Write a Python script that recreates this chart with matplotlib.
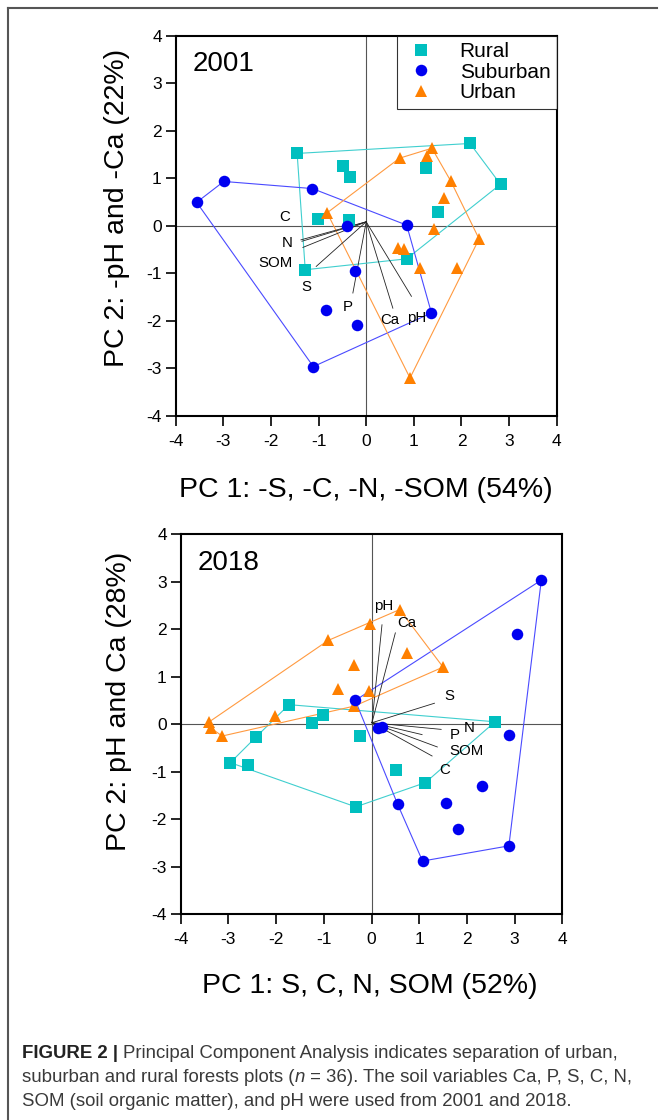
import matplotlib
matplotlib.use('Agg')
import matplotlib.pyplot as plt
from matplotlib.lines import Line2D

plt.rcParams['font.family'] = ['Liberation Sans', 'DejaVu Sans']

W, H = 659, 1120

# ---------------- data: 2001 ----------------
rural01_x = [-1.45, -0.49, -0.35, 2.18, 2.82, 1.26, 1.50, -1.02, -0.37, -1.28, 0.85]
rural01_y = [1.52, 1.26, 1.02, 1.73, 0.87, 1.21, 0.29, 0.14, 0.12, -0.93, -0.70]
sub01_x = [-3.56, -2.99, -1.13, 0.85, -0.41, -0.23, -0.85, -0.20, 1.37, -1.11]
sub01_y = [0.49, 0.93, 0.78, 0.01, 0.00, -0.95, -1.77, -2.10, -1.84, -2.97]
urb01_x = [-0.82, 0.70, 1.38, 1.27, 1.78, 1.64, 1.42, 2.37, 0.66, 0.80, 1.14, 1.90, 0.92]
urb01_y = [0.27, 1.42, 1.63, 1.47, 0.93, 0.58, -0.07, -0.28, -0.48, -0.49, -0.90, -0.90, -3.21]

vars01 = ['C', 'N', 'SOM', 'S', 'P', 'Ca', 'pH']
load01_x0 = [0.0] * 7
load01_y0 = [0.08] * 7
load01_x = [-1.37, -1.35, -1.33, -1.05, -0.28, 0.56, 0.95]
load01_y = [-0.30, -0.33, -0.46, -0.86, -1.42, -1.74, -1.49]
lab01_x = [-1.72, -1.65, -1.91, -1.26, -0.39, 0.49, 1.05]
lab01_y = [0.19, -0.36, -0.79, -1.30, -1.72, -1.99, -1.95]

# ---------------- data: 2018 ----------------
rural18_x = [-1.73, -1.01, -1.24, 2.59, -2.42, -0.25, -2.96, -2.59, 0.51, 1.13, -0.33]
rural18_y = [0.41, 0.20, 0.02, 0.05, -0.27, -0.25, -0.81, -0.85, -0.97, -1.23, -1.74]
sub18_x = [3.56, 3.05, -0.34, 0.13, 0.22, 2.88, 2.31, 0.55, 1.56, 1.81, 2.88, 1.07]
sub18_y = [3.03, 1.90, 0.50, -0.08, -0.06, -0.22, -1.30, -1.69, -1.66, -2.20, -2.56, -2.88]
urb18_x = [0.59, -0.04, -0.91, 0.75, -0.36, 1.50, -0.71, -0.06, -2.03, -3.40, -3.37, -3.13, -0.36]
urb18_y = [2.41, 2.11, 1.76, 1.50, 1.24, 1.20, 0.74, 0.69, 0.17, 0.05, -0.08, -0.25, 0.38]

vars18 = ['pH', 'Ca', 'S', 'N', 'P', 'SOM', 'C']
load18_x0 = [0.01] * 7
load18_y0 = [0.03] * 7
load18_x = [0.22, 0.50, 1.32, 1.46, 1.06, 1.38, 1.27]
load18_y = [2.09, 1.92, 0.44, -0.11, -0.22, -0.48, -0.67]
lab18_x = [0.25, 0.74, 1.64, 2.04, 1.75, 1.99, 1.53]
lab18_y = [2.48, 2.12, 0.59, -0.09, -0.23, -0.57, -0.97]

ticks = [-4, -3, -2, -1, 0, 1, 2, 3, 4]
tick_labels = ['-4', '-3', '-2', '-1', '0', '1', '2', '3', '4']

groups = ['Rural', 'Suburban', 'Urban']
marker_col = {'Rural': '#00BFBF', 'Suburban': '#0000F0', 'Urban': '#FF8000'}
hull_col = {'Rural': '#40CFCF', 'Suburban': '#4A4AFF', 'Urban': '#FF9A40'}
markers = {'Rural': 's', 'Suburban': 'o', 'Urban': '^'}
msize = {'Rural': 8.6, 'Suburban': 8.3, 'Urban': 9.0}


def convex_hull(xs, ys):
    pts = sorted(set(zip(xs, ys)))

    def cross(o, a, b):
        return (a[0] - o[0]) * (b[1] - o[1]) - (a[1] - o[1]) * (b[0] - o[0])
    lower, upper = [], []
    for p in pts:
        while len(lower) >= 2 and cross(lower[-2], lower[-1], p) <= 0:
            lower.pop()
        lower.append(p)
    for p in reversed(pts):
        while len(upper) >= 2 and cross(upper[-2], upper[-1], p) <= 0:
            upper.pop()
        upper.append(p)
    h = lower[:-1] + upper[:-1]
    h.append(h[0])
    return [p[0] for p in h], [p[1] for p in h]


fig = plt.figure(figsize=(W / 100, H / 100), dpi=100)


def axrect(l, t, r, b):
    return [l / W, 1 - b / H, (r - l) / W, (b - t) / H]


def panel(rect, data, loads, year, show_legend):
    ax = fig.add_axes(rect)
    ax.set_xlim(-4, 4)
    ax.set_ylim(-4, 4)
    ax.axhline(0, color='#555555', lw=0.8, zorder=1)
    ax.axvline(0, color='#555555', lw=0.8, zorder=1)
    # hulls
    for g in groups:
        xs, ys = data[g]
        hx, hy = convex_hull(xs, ys)
        ax.plot(hx, hy, color=hull_col[g], lw=0.8, zorder=2)
    # loadings
    names, x0, y0, x1, y1, lx, ly = loads
    for n, a, b, c, d, e, f in zip(names, x0, y0, x1, y1, lx, ly):
        ax.plot([a, c], [b, d], color='#222222', lw=0.6, zorder=3)
        ax.text(e, f, n, fontsize=10.8, ha='center', va='center', zorder=6)
    # points
    zo = {'Rural': 4, 'Urban': 5, 'Suburban': 6}
    for g in groups:
        xs, ys = data[g]
        ax.plot(xs, ys, linestyle='none', marker=markers[g], ms=msize[g],
                color=marker_col[g], mew=0, zorder=zo[g], label=g)
    ax.set_xticks(ticks)
    ax.set_xticklabels(tick_labels)
    ax.set_yticks(ticks)
    ax.set_yticklabels(tick_labels)
    ax.tick_params(direction='out', length=7, width=1.2, labelsize=12.5,
                   color='black', pad=3)
    ax.tick_params(axis='x', pad=6)
    for s in ax.spines.values():
        s.set_linewidth(1.5)
    ax.text(0.045, 0.925, year, transform=ax.transAxes, fontsize=20,
            ha='left', va='center')
    if show_legend:
        leg = ax.legend(loc='upper right', borderaxespad=0, fontsize=15,
                        frameon=True, fancybox=False, borderpad=0.3,
                        handlelength=1.7, handletextpad=1.0, labelspacing=0.08,
                        numpoints=1)
        leg.get_frame().set_edgecolor('black')
        leg.get_frame().set_linewidth(0.8)
        leg.set_zorder(10)
    return ax


d01 = {'Rural': (rural01_x, rural01_y), 'Suburban': (sub01_x, sub01_y),
       'Urban': (urb01_x, urb01_y)}
d18 = {'Rural': (rural18_x, rural18_y), 'Suburban': (sub18_x, sub18_y),
       'Urban': (urb18_x, urb18_y)}

panel(axrect(175.7, 35.7, 556.7, 415.5), d01,
      (vars01, load01_x0, load01_y0, load01_x, load01_y, lab01_x, lab01_y),
      '2001', True)
panel(axrect(180.7, 534.0, 562.3, 914.3), d18,
      (vars18, load18_x0, load18_y0, load18_x, load18_y, lab18_x, lab18_y),
      '2018', False)


def fx(x):
    return x / W


def fy(y):
    return 1 - y / H


# axis labels
fig.text(fx(366), fy(490), 'PC 1: -S, -C, -N, -SOM (54%)', fontsize=20.5,
         ha='center', va='center')
fig.text(fx(117.5), fy(208), 'PC 2: -pH and -Ca (22%)', fontsize=20.5,
         ha='center', va='center', rotation=90)
fig.text(fx(370), fy(986), 'PC 1: S, C, N, SOM (52%)', fontsize=20.5,
         ha='center', va='center')
fig.text(fx(119), fy(701), 'PC 2: pH and Ca (28%)', fontsize=20.5,
         ha='center', va='center', rotation=90)

# border lines of the figure panel
fig.add_artist(Line2D([fx(8), fx(8)], [fy(8), fy(1120)], color='#555555', lw=1.5))
fig.add_artist(Line2D([fx(8), fx(657)], [fy(8), fy(8)], color='#555555', lw=1.5))

# caption
cap_fs = 13.4
fig.canvas.draw()
r = fig.canvas.get_renderer()


def seq(x, y, parts):
    for txt, kw in parts:
        opts = dict(fontsize=cap_fs, color='#3a3a3a', ha='left', va='center')
        opts.update(kw)
        t = fig.text(fx(x), fy(y), txt, **opts)
        bb = t.get_window_extent(r)
        x = x + bb.width
    return x


seq(22, 1054, [('FIGURE 2 | ', {'weight': 'bold', 'color': '#222222'}),
               ('Principal Component Analysis indicates separation of urban,', {})])
seq(22, 1078, [('suburban and rural forests plots (', {}),
               ('n', {'style': 'italic'}),
               (' = 36). The soil variables Ca, P, S, C, N,', {})])
seq(22, 1101, [('SOM (soil organic matter), and pH were used from 2001 and 2018.', {})])

fig.savefig('out.png', dpi=100)
